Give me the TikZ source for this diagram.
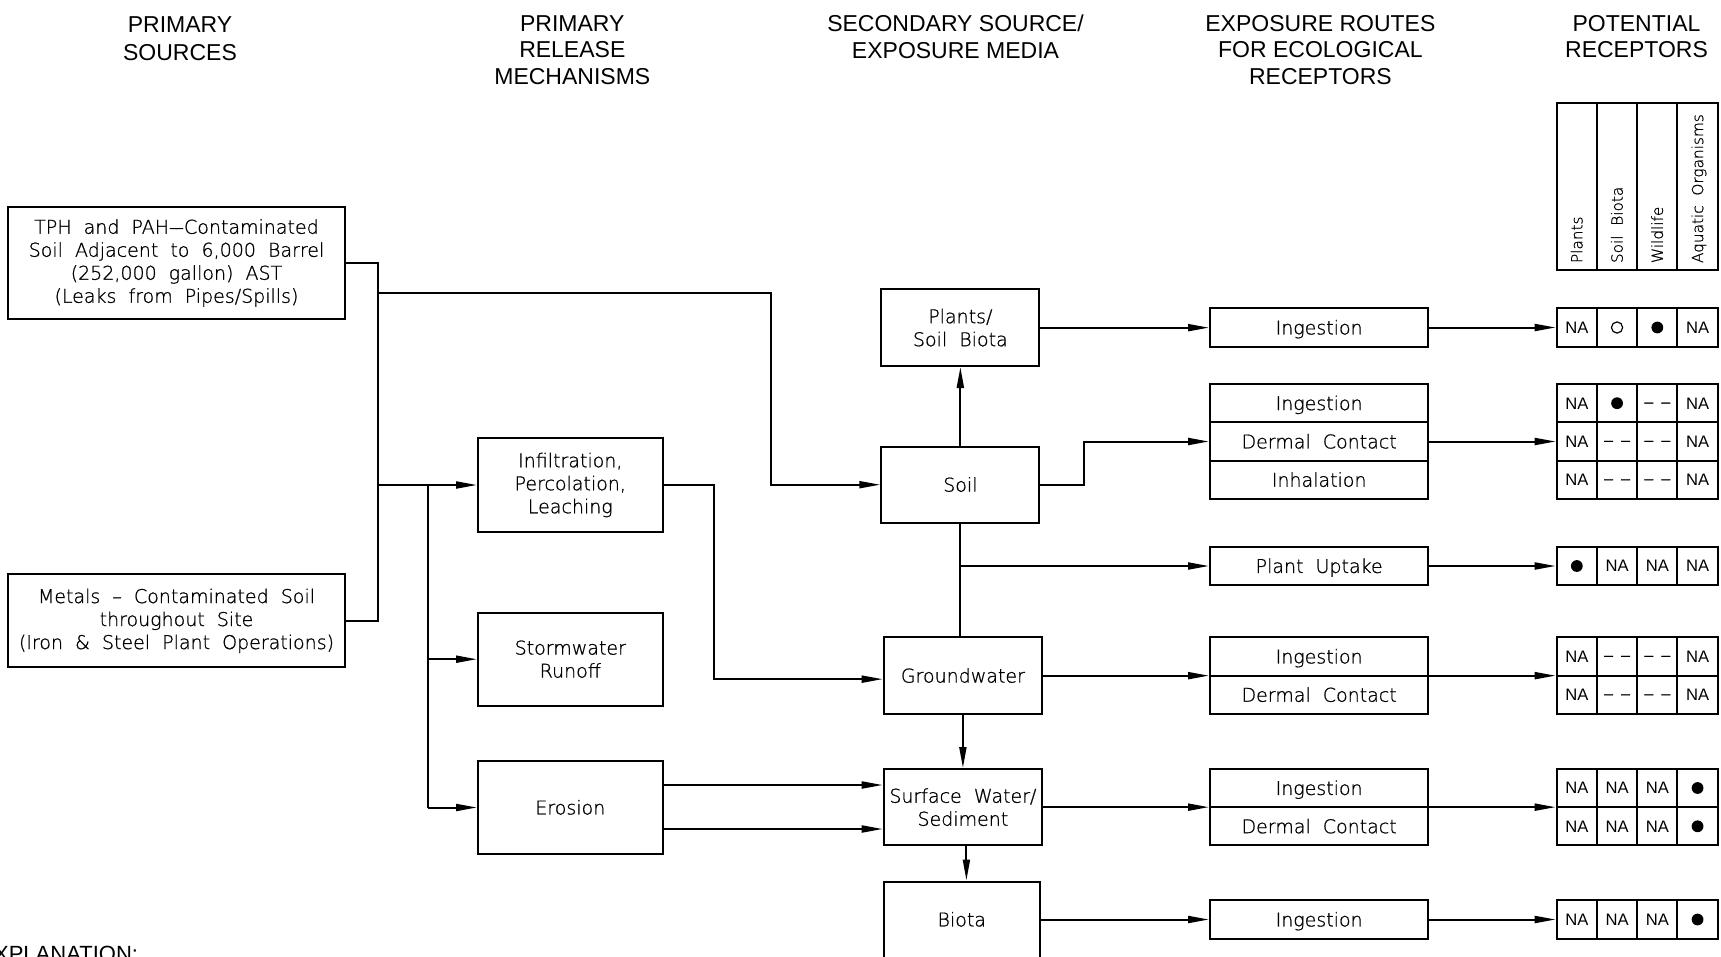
\documentclass[tikz,border=0pt]{standalone}
\usepackage{fontspec}
\setmainfont{Liberation Sans}
\newfontfamily\cadfam[FakeBold=0.9]{DejaVu Sans ExtraLight}
\usetikzlibrary{arrows.meta,calc}
\newcommand{\cadtext}{\cadfam\fontsize{19}{23}\selectfont}
\newcommand{\hdtext}{\fontsize{23}{26.5}\selectfont}
\newcommand{\natext}{\fontsize{16.6}{18}\selectfont}
\newcommand{\rottext}{\cadfam\fontsize{15.3}{17}\selectfont}
\newcommand{\dsh}{{\cadfam\fontsize{22}{22}\selectfont\textendash\hspace{6pt}\textendash}}
\newcommand{\longdash}{\textendash\kern-4pt\textendash}
\newcommand{\trow}[6]{%
  \node[cell] (#1-1) at (1576.8,#2) {#3};
  \node[cell] (#1-2) at (1617.05,#2) {#4};
  \node[cell] (#1-3) at (1657.3,#2) {#5};
  \node[cell] (#1-4) at (1697.55,#2) {#6};
}
\begin{document}
\begin{tikzpicture}[x=1pt,y=-1pt,line width=2pt,
  box/.style={draw,line width=2pt,inner sep=0pt,align=center,font=\cadtext},
  one/.style={text height=13.85pt,text depth=0pt},
  exb/.style={box,one,minimum width=218.3pt,minimum height=38.3pt},
  cell/.style={draw,line width=2pt,inner sep=0pt,minimum width=40.25pt,minimum height=38.3pt,
    text height=11.9pt,text depth=0pt,font=\natext},
  hcell/.style={draw,line width=2pt,inner sep=0pt,minimum width=40.25pt,minimum height=167.3pt},
  rlab/.style={rotate=90,anchor=west,inner sep=0pt,text height=11.15pt,text depth=0pt,font=\rottext},
  hd/.style={align=center,inner sep=0pt,font=\hdtext},
  arr/.style={-{Triangle[length=21pt,width=7pt]}},
  fdot/.style={fill=black},
  odot/.style={draw=black,line width=1.2pt}]
\useasboundingbox (0,0) rectangle (1721,956);
\clip (0,0) rectangle (1721,956);

% headers
\node[hd] (h1) at (180,38.5) {PRIMARY\\[1pt]SOURCES};
\node[hd] (h2) at (572.3,50) {PRIMARY\\RELEASE\\MECHANISMS};
\node[hd] (h3) at (955.5,36.7) {SECONDARY SOURCE/\\EXPOSURE MEDIA};
\node[hd] (h4) at (1320.4,50) {EXPOSURE ROUTES\\FOR ECOLOGICAL\\RECEPTORS};
\node[hd] (h5) at (1636.5,36.7) {POTENTIAL\\RECEPTORS};
\node[anchor=base east,inner sep=0pt,font=\fontsize{22}{24}\selectfont] (expl) at (139,961) {EXPLANATION:};

% primary sources
\node[box,minimum width=337pt,minimum height=112pt] (tph) at (176.5,263)
  {TPH~~and~~PAH\longdash Contaminated\\Soil~~Adjacent~~to~~6,000~~Barrel\\(252,000~~gallon)~~AST\\(Leaks~~from~~Pipes/Spills)};
\node[box,minimum width=337pt,minimum height=93pt] (metals) at (176.5,620.8)
  {Metals~~\textendash~~Contaminated~~Soil\\throughout~~Site\\(Iron~~\&~~Steel~~Plant~~Operations)};

% release mechanisms
\node[box,minimum width=184.6pt,minimum height=93.4pt] (infil) at (570.3,485)
  {Infiltration,\\Percolation,\\Leaching};
\node[box,minimum width=184.6pt,minimum height=93pt] (storm) at (570.3,659.2)
  {Stormwater\\Runoff};
\node[box,one,minimum width=184.6pt,minimum height=93pt] (erosion) at (570.3,807.5) {Erosion};

% secondary media
\node[box,minimum width=158.1pt,minimum height=76.7pt] (plants) at (960.35,327.65) {Plants/\\Soil~~Biota};
\node[box,one,minimum width=158.1pt,minimum height=76pt] (soil) at (960.35,484.7) {Soil};
\node[box,one,minimum width=158.4pt,minimum height=76.7pt] (gw) at (962.9,675.65) {Groundwater};
\node[box,minimum width=158.4pt,minimum height=76.3pt] (sw) at (962.9,807.15) {Surface~~Water/\\Sediment};
\node[box,one,minimum width=156.1pt,minimum height=76pt] (biota) at (961.75,919.5) {Biota};

% exposure routes
\node[exb] (e1) at (1319.15,327.5) {Ingestion};
\node[exb] (e2a) at (1319.15,403.2) {Ingestion};
\node[exb] (e2b) at (1319.15,441.5) {Dermal~~Contact};
\node[exb] (e2c) at (1319.15,479.8) {Inhalation};
\node[exb] (e3) at (1319.15,566) {Plant~~Uptake};
\node[exb] (e4a) at (1319.15,656.5) {Ingestion};
\node[exb] (e4b) at (1319.15,694.8) {Dermal~~Contact};
\node[exb] (e5a) at (1319.15,788) {Ingestion};
\node[exb] (e5b) at (1319.15,826.3) {Dermal~~Contact};
\node[exb] (e6) at (1319.15,919.5) {Ingestion};

% receptor header
\node[hcell] (hc1) at (1576.8,186.35) {};
\node[hcell] (hc2) at (1617.05,186.35) {};
\node[hcell] (hc3) at (1657.3,186.35) {};
\node[hcell] (hc4) at (1697.55,186.35) {};
\node[rlab] (rl1) at (1576.8,264) {Plants};
\node[rlab] (rl2) at (1617.05,264) {Soil~~Biota};
\node[rlab] (rl3) at (1657.3,264) {Wildlife};
\node[rlab] (rl4) at (1697.55,264) {Aquatic~~Organisms};

% receptor tables
\trow{t1}{327.5}{NA}{}{}{NA}
\trow{t2a}{403.2}{NA}{}{\dsh}{NA}
\trow{t2b}{441.5}{NA}{\dsh}{\dsh}{NA}
\trow{t2c}{479.8}{NA}{\dsh}{\dsh}{NA}
\trow{t3}{566}{}{NA}{NA}{NA}
\trow{t4a}{656.5}{NA}{\dsh}{\dsh}{NA}
\trow{t4b}{694.8}{NA}{\dsh}{\dsh}{NA}
\trow{t5a}{788}{NA}{NA}{NA}{}
\trow{t5b}{826.3}{NA}{NA}{NA}{}
\trow{t6}{919.5}{NA}{NA}{NA}{}
\path[odot] (t1-2.center) circle[radius=5.6pt];
\fill[fdot] (t1-3.center) circle[radius=5.9pt];
\fill[fdot] (t2a-2.center) circle[radius=5.9pt];
\fill[fdot] (t3-1.center) circle[radius=5.9pt];
\fill[fdot] (t5a-4.center) circle[radius=5.9pt];
\fill[fdot] (t5b-4.center) circle[radius=5.9pt];
\fill[fdot] (t6-4.center) circle[radius=5.9pt];

% helper coordinates
\coordinate (bus) at (378,0);
\coordinate (sub) at (427.7,0);
\coordinate (jog1) at (770.5,0);
\coordinate (jog2) at (714,0);
\coordinate (jog3) at (1084,0);
\coordinate (j1) at (378,292.7);

% sources -> release mechanisms
\draw (tph.east) -| (bus |- metals.east) -- (metals.east);
\draw[arr] (j1) -| (jog1 |- soil.west) -- (soil.west);
\draw[arr] (bus |- infil.west) -- (infil.west);
\draw (sub |- infil.west) -- (sub |- erosion.west);
\draw[arr] (sub |- storm.west) -- (storm.west);
\draw[arr] (sub |- erosion.west) -- (erosion.west);

% release -> media
\coordinate (gwin) at ([yshift=-3.5pt]gw.west);
\draw[arr] (infil.east) -| (jog2 |- gwin) -- (gwin);
\draw[arr] ([yshift=22.5pt]erosion.east) -- ([yshift=22.5pt]erosion.east -| sw.west);
\draw[arr] ([yshift=-21.5pt]erosion.east) -- ([yshift=-21.5pt]erosion.east -| sw.west);

% within media
\draw[arr] (soil.north) -- (plants.south);
\draw (soil.south) -- (soil.south |- gw.north);
\draw[arr] (soil.south |- e3.west) -- (e3.west);
\draw[arr] (gw.south) -- (sw.north);
\draw[arr] ([xshift=3.5pt]sw.south) -- ([xshift=3.5pt]sw.south |- biota.north);

% media -> exposure routes
\draw[arr] (plants.east) -- (plants.east -| e1.west);
\draw[arr] (soil.east) -| (jog3 |- e2b.west) -- (e2b.west);
\draw[arr] (gw.east) -- (gw.east -| e4a.west);
\draw[arr] (sw.east) -- (sw.east -| e5a.west);
\draw[arr] (biota.east) -- (e6.west);

% exposure routes -> receptors
\draw[arr] (e1.east) -- (t1-1.west);
\draw[arr] (e2b.east) -- (t2b-1.west);
\draw[arr] (e3.east) -- (t3-1.west);
\draw[arr] (gw.east -| e4a.east) -- (gw.east -| t4a-1.west);
\draw[arr] (sw.east -| e5a.east) -- (sw.east -| t5a-1.west);
\draw[arr] (e6.east) -- (t6-1.west);
\end{tikzpicture}
\end{document}
